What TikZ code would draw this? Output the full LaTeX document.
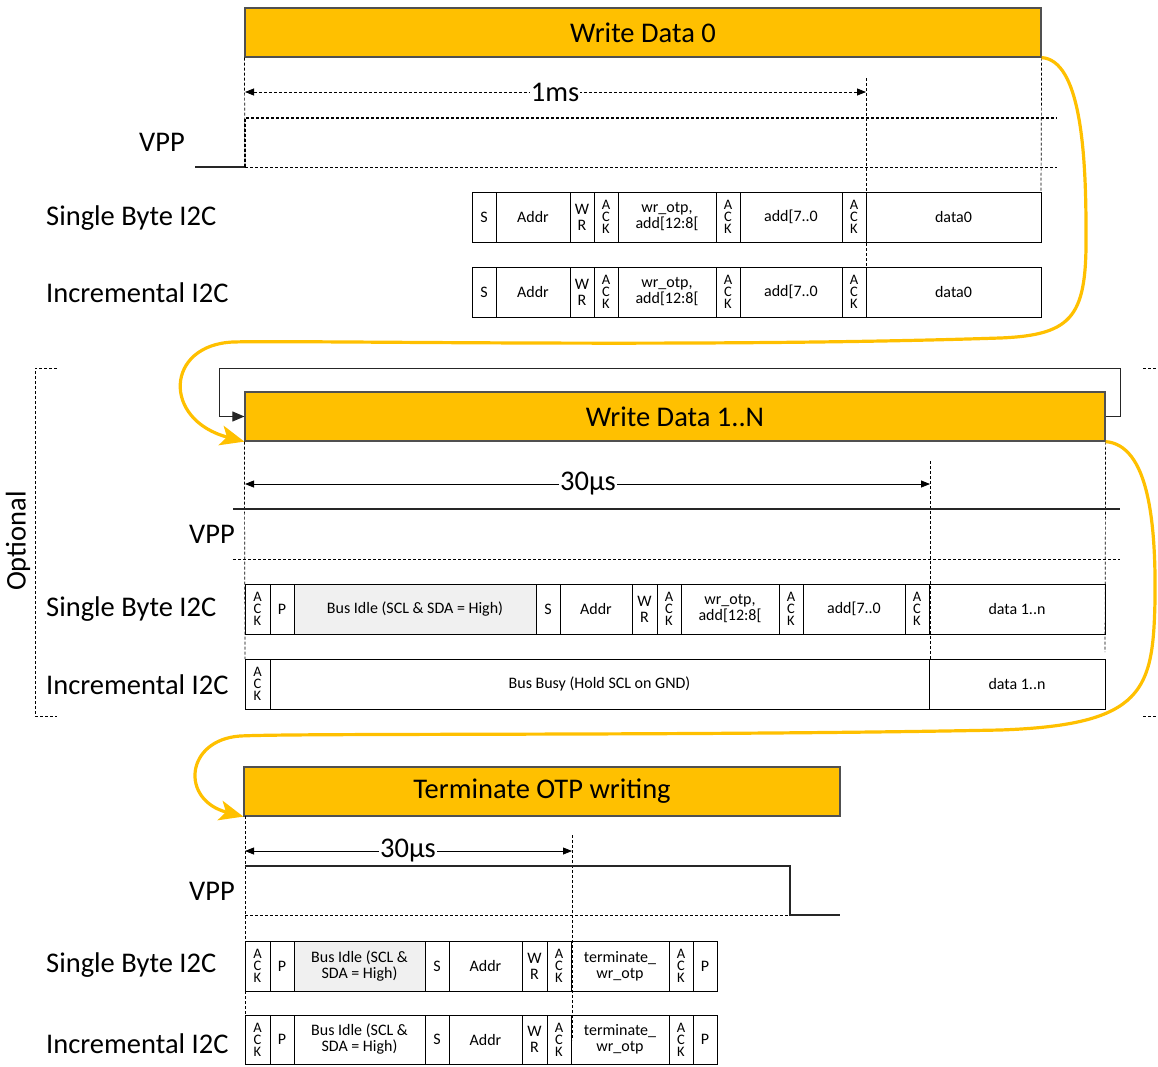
\documentclass[tikz,border=0pt]{standalone}
\usepackage{fontspec}
\setmainfont{Carlito}
\usetikzlibrary{arrows.meta}
\definecolor{otpyellow}{HTML}{FFC000}
\definecolor{boxedge}{HTML}{505050}
\definecolor{idlegray}{HTML}{F0F0F0}
\tikzset{
  titlebox/.style={draw=boxedge, fill=otpyellow, line width=1.2pt, inner sep=0pt, font=\fontsize{28.5}{30}\selectfont},
  cell/.style={draw=black, line width=0.8pt, inner sep=0pt, align=center, font=\fontsize{16}{16}\selectfont},
  ackcell/.style={cell, font=\fontsize{14.5}{12}\selectfont},
  idlecell/.style={cell, fill=idlegray},
  lbl/.style={font=\fontsize{28.5}{30}\selectfont, inner sep=0pt},
  guide/.style={dash pattern=on 3pt off 2pt, line width=0.7pt},
  vppline/.style={line width=1.4pt, black!85},
  dimlabel/.style={fill=white, inner sep=1pt, font=\fontsize{28.5}{30}\selectfont},
  dimarrow/.style={line width=0.8pt, {Triangle[length=9pt,width=7pt]}-{Triangle[length=9pt,width=7pt]}},
  flowarrow/.style={draw=otpyellow, line width=3.2pt, -{Stealth[length=24pt,width=20pt,inset=6pt]}},
  looparrow/.style={draw=black!85, line width=1pt, -{Triangle[length=12pt,width=10pt]}},
}
\newcommand\cellrow[4]{%
  \foreach \xa/\xb/\sty/\txt [count=\ci] in {#4} {
    \pgfmathsetmacro\cellw{\xb-\xa}
    \pgfmathsetmacro\cellx{(\xa+\xb)/2}
    \pgfmathsetmacro\celly{#2+#3/2}
    \node[\sty, minimum width=\cellw pt, minimum height=#3 pt] (#1\ci) at (\cellx,\celly) {\txt};
  }%
}
\begin{document}
\begin{tikzpicture}[x=1pt, y=-1pt]
\useasboundingbox (0,0) rectangle (1158,1066);

% ================= Section 1: Write Data 0 =================
\node[titlebox, minimum width=796pt, minimum height=49pt] (t1) at (643,32.5) {Write Data 0};
\node[lbl, anchor=east] (vpp1) at (185,142) {VPP};
\node[lbl, anchor=west] (sb1) at (46,218) {Single Byte I2C};
\node[lbl, anchor=west] (in1) at (46,293) {Incremental I2C};

\draw[guide] (t1.south west) -- (245,167);
\draw[guide] (866,78) -- (866,317);
\draw[guide] (t1.south east) -- (1041,192);
\draw[vppline] (195,167) -- (245,167);
\draw[guide, line width=1.2pt] (245,167) -- (245,118) -- (1057,118);
\draw[guide] (245,167) -- (1057,167);

\coordinate (d1a) at (245,92);
\coordinate (d1b) at (866,92);
\draw[dimarrow, dash pattern=on 3pt off 2pt] (d1a) -- (d1b);
\node[dimlabel] (d1l) at (555,92) {1ms};

\cellrow{ra}{192}{50}{472/496/cell/S, 496/570/cell/Addr, 570/594/cell/{W\\R}, 594/618/ackcell/{A\\C\\K}, 618/716/cell/{wr\_otp,\\add[12:8[}, 716/740/ackcell/{A\\C\\K}, 740/842/cell/{add[7..0}, 842/866/ackcell/{A\\C\\K}, 866/1041/cell/data0}
\cellrow{rb}{267}{50}{472/496/cell/S, 496/570/cell/Addr, 570/594/cell/{W\\R}, 594/618/ackcell/{A\\C\\K}, 618/716/cell/{wr\_otp,\\add[12:8[}, 716/740/ackcell/{A\\C\\K}, 740/842/cell/{add[7..0}, 842/866/ackcell/{A\\C\\K}, 866/1041/cell/data0}

% ================= Section 2: Write Data 1..N =================
\node[titlebox, minimum width=860pt, minimum height=49pt] (t2) at (675,416.5) {Write Data 1..N};
\node[lbl, anchor=east] (vpp2) at (235,534) {VPP};
\node[lbl, anchor=west] (sb2) at (46,609) {Single Byte I2C};
\node[lbl, anchor=west] (in2) at (46,685) {Incremental I2C};
\node[lbl, rotate=90] (opt) at (18,541) {Optional};

\draw[guide] (57,368) -- (35,368) -- (35,716) -- (57,716);
\draw[guide] (1143,368) -- (1158,368);
\draw[guide] (1143,716) -- (1158,716);

\draw[looparrow] (t2.east) -- (1120,416.5) -- (1120,368) -- (219,368) -- (219,416.5) -- (t2.west);

\draw[guide] (t2.south west) -- (245,659);
\draw[guide] (930,461) -- (930,659);
\draw[guide] (t2.south east) -- (1105,652);
\draw[vppline] (233,509) -- (1120,509);
\draw[guide] (233,559) -- (1120,559);

\coordinate (d2a) at (245,484);
\coordinate (d2b) at (930,484);
\draw[dimarrow] (d2a) -- (d2b);
\node[dimlabel] (d2l) at (588,484) {30µs};

\cellrow{rc}{584}{50}{245/270/ackcell/{A\\C\\K}, 270/294/cell/P, 294/536/idlecell/{Bus Idle (SCL \& SDA = High)}, 536/560/cell/S, 560/632/cell/Addr, 632/657/cell/{W\\R}, 657/681/ackcell/{A\\C\\K}, 681/779/cell/{wr\_otp,\\add[12:8[}, 779/803/ackcell/{A\\C\\K}, 803/905/cell/{add[7..0}, 905/929/ackcell/{A\\C\\K}, 929/1105/cell/{data 1..n}}
\cellrow{rd}{659}{50}{245/270/ackcell/{A\\C\\K}, 270/929/cell/{Bus Busy (Hold SCL on GND)}, 929/1105/cell/{data 1..n}}

% ================= Section 3: Terminate =================
\node[titlebox, minimum width=596pt, minimum height=49pt] (t3) at (542,791.5) {Terminate OTP writing};
\node[lbl, anchor=east] (vpp3) at (235,891) {VPP};
\node[lbl, anchor=west] (sb3) at (46,965) {Single Byte I2C};
\node[lbl, anchor=west] (in3) at (46,1044) {Incremental I2C};

\draw[guide] (245,816) -- (245,1064);
\draw[guide] (572,835) -- (572,1040);
\draw[vppline] (245,866) -- (790,866) -- (790,915) -- (840,915);
\draw[guide] (245,915) -- (790,915);

\coordinate (d3a) at (245,851);
\coordinate (d3b) at (572,851);
\draw[dimarrow] (d3a) -- (d3b);
\node[dimlabel] (d3l) at (408,851) {30µs};

\cellrow{re}{941}{50}{245/270/ackcell/{A\\C\\K}, 270/294/cell/P, 294/425/idlecell/{Bus Idle (SCL \&\\SDA = High)}, 425/449/cell/S, 449/522/cell/Addr, 522/547/cell/{W\\R}, 547/571/ackcell/{A\\C\\K}, 571/669/cell/{terminate\_\\wr\_otp}, 669/693/ackcell/{A\\C\\K}, 693/717/cell/P}
\cellrow{rf}{1015}{49}{245/270/ackcell/{A\\C\\K}, 270/294/cell/P, 294/425/cell/{Bus Idle (SCL \&\\SDA = High)}, 425/449/cell/S, 449/522/cell/Addr, 522/547/cell/{W\\R}, 547/571/ackcell/{A\\C\\K}, 571/669/cell/{terminate\_\\wr\_otp}, 669/693/ackcell/{A\\C\\K}, 693/717/cell/P}

% ================= Flow arrows =================
\draw[flowarrow] (t1.south east) .. controls (1080,60) and (1086,150) .. (1086,230)
  .. controls (1087,315) and (1075,335) .. (1000,338)
  .. controls (700,348) and (300,340) .. (233,342)
  .. controls (165,345) and (162,420) .. (t2.south west);
\draw[flowarrow] (t2.south east) .. controls (1148,445) and (1156,520) .. (1155,600)
  .. controls (1153,690) and (1145,725) .. (1000,730)
  .. controls (700,736) and (300,733) .. (240,736)
  .. controls (185,740) and (180,800) .. (t3.south west);
\end{tikzpicture}
\end{document}
